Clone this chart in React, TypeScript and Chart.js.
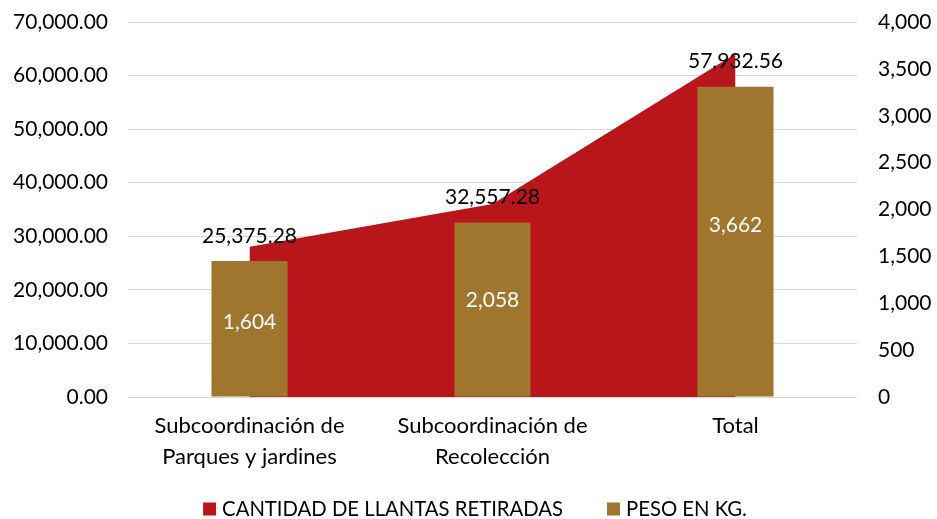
import React, { useEffect, useRef } from 'react';
import { Chart, registerables } from 'chart.js';

Chart.register(...registerables);

const categories: string[][] = [
  ['Subcoordinación de', 'Parques y jardines'],
  ['Subcoordinación de', 'Recolección'],
  ['Total'],
];
const pesoKg = [25375.28, 32557.28, 57932.56];
const cantidadLlantas = [1604, 2058, 3662];
const seriesNames = ['CANTIDAD DE LLANTAS RETIRADAS', 'PESO EN KG.'];
const seriesColors = ['#B9161C', '#A0752D'];

const FONT = 'Lato, "Open Sans", sans-serif';
const FS = 21;
const TEXT = '#000000';

const fmt2 = (v: number) =>
  Number(v).toLocaleString('en-US', { minimumFractionDigits: 2, maximumFractionDigits: 2 });
const fmt0 = (v: number) => Number(v).toLocaleString('en-US', { maximumFractionDigits: 0 });

const valueLabels = {
  id: 'valueLabels',
  afterDatasetsDraw(chart: any) {
    const ctx = chart.ctx;
    ctx.save();
    ctx.font = `${FS}px ${FONT}`;
    ctx.textAlign = 'center';
    ctx.textBaseline = 'middle';
    const barMeta = chart.getDatasetMeta(1);
    barMeta.data.forEach((el: any, i: number) => {
      ctx.fillStyle = TEXT;
      ctx.fillText(fmt2(pesoKg[i]), el.x, el.y - 25);
    });
    const lineMeta = chart.getDatasetMeta(0);
    const y0 = chart.scales.y1.getPixelForValue(0);
    lineMeta.data.forEach((el: any, i: number) => {
      ctx.fillStyle = '#FFFFFF';
      ctx.fillText(fmt0(cantidadLlantas[i]), el.x, (el.y + y0) / 2);
    });
    ctx.restore();
  },
};

const bottomLegend = {
  id: 'bottomLegend',
  afterDraw(chart: any) {
    const ctx = chart.ctx;
    ctx.save();
    ctx.font = `20.3px ${FONT}`;
    ctx.textBaseline = 'middle';
    ctx.textAlign = 'left';
    const box = 13;
    const gap = 6;
    const spacing = 44;
    const widths = seriesNames.map((t) => ctx.measureText(t).width);
    const total = widths.reduce((a, w) => a + box + gap + w, 0) + spacing * (seriesNames.length - 1);
    let x = 475 - total / 2;
    const cy = 509;
    seriesNames.forEach((t, i) => {
      ctx.fillStyle = seriesColors[i];
      ctx.fillRect(x, cy - box / 2, box, box);
      ctx.fillStyle = TEXT;
      ctx.fillText(t, x + box + gap, cy);
      x += box + gap + widths[i] + spacing;
    });
    ctx.restore();
  },
};

export default function App() {
  const ref = useRef<HTMLCanvasElement | null>(null);

  useEffect(() => {
    document.body.style.margin = '0';
    const canvas = ref.current;
    if (!canvas) return;
    const font = { family: FONT, size: FS };
    const chart = new Chart(canvas, {
      type: 'bar',
      data: {
        labels: categories as any,
        datasets: [
          {
            type: 'line',
            label: seriesNames[0],
            data: cantidadLlantas,
            yAxisID: 'y1',
            backgroundColor: seriesColors[0],
            borderColor: seriesColors[0],
            borderWidth: 0,
            pointRadius: 0,
            tension: 0,
            fill: 'origin',
            order: 2,
          } as any,
          {
            type: 'bar',
            label: seriesNames[1],
            data: pesoKg,
            yAxisID: 'y',
            backgroundColor: seriesColors[1],
            borderWidth: 0,
            barPercentage: 0.313,
            categoryPercentage: 1,
            order: 1,
          } as any,
        ],
      },
      options: {
        animation: false,
        responsive: false,
        maintainAspectRatio: false,
        layout: { padding: { top: 22, bottom: 30, left: 0, right: 0 } },
        plugins: {
          legend: { display: false },
          tooltip: { enabled: false },
        },
        scales: {
          x: {
            offset: true,
            grid: { display: false, drawTicks: false },
            border: { display: false },
            ticks: {
              font: { family: FONT, size: 22, lineHeight: 1.41 },
              color: TEXT,
              padding: 13,
              maxRotation: 0,
              autoSkip: false,
            },
            afterFit: (s: any) => {
              s.height = 92;
            },
          },
          y: {
            position: 'left',
            min: 0,
            max: 70000,
            ticks: { stepSize: 10000, callback: (v: any) => fmt2(v), padding: 20, font, color: TEXT },
            grid: { color: '#D9D9D9', drawTicks: false, lineWidth: 1 },
            border: { display: false },
            afterFit: (s: any) => {
              s.width = 128;
              s.paddingTop = 0;
              s.paddingBottom = 0;
            },
          },
          y1: {
            position: 'right',
            min: 0,
            max: 4000,
            ticks: { stepSize: 500, callback: (v: any) => fmt0(v), padding: 21, font, color: TEXT },
            grid: { display: false, drawTicks: false },
            border: { display: false },
            afterFit: (s: any) => {
              s.width = 80;
              s.paddingTop = 0;
              s.paddingBottom = 0;
            },
          },
        },
      } as any,
      plugins: [valueLabels, bottomLegend],
    });
    return () => chart.destroy();
  }, []);

  return (
    <div style={{ width: 937, height: 519 }}>
      <canvas ref={ref} width={937} height={519} style={{ display: 'block' }} />
    </div>
  );
}
